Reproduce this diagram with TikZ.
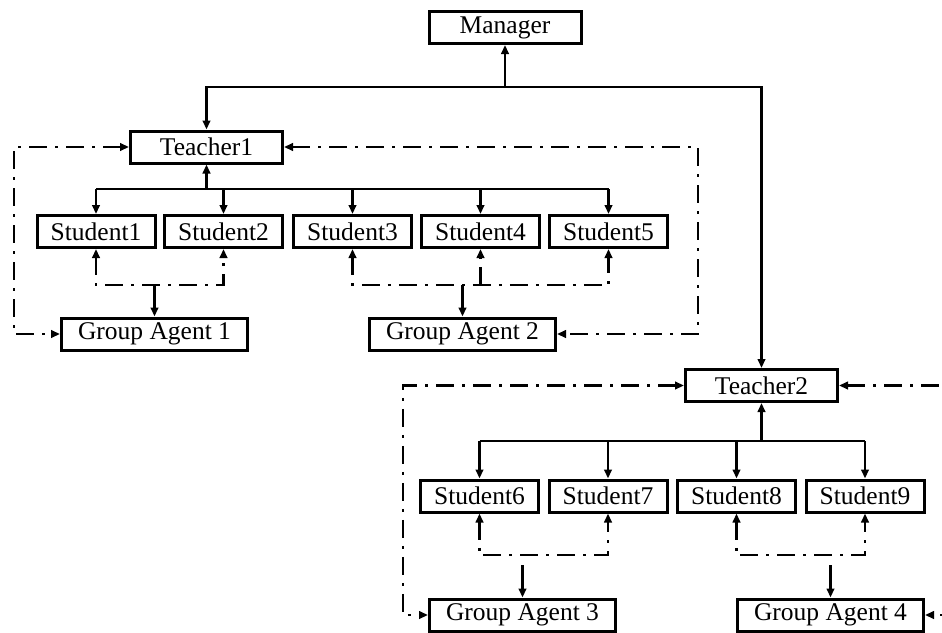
\documentclass[tikz,border=0pt]{standalone}
\usepackage{fontspec}
\setmainfont{Liberation Serif}
\usetikzlibrary{arrows.meta}
\begin{document}
\begin{tikzpicture}[x=1pt, y=-1pt, >={Triangle[length=9pt,width=7.5pt]},
    agent/.style ={draw, line width=3pt, minimum height=32pt, inner sep=0pt, font=\fontsize{25.5}{30}\selectfont},
    head/.style ={agent, minimum width=152pt},
    learner/.style ={agent, minimum width=118pt},
    grouper/.style ={agent, minimum width=186pt},
    link/.style ={line width=2.6pt, ->},
    relay/.style ={line width=2.8pt, dash pattern=on 18pt off 8pt on 3pt off 8pt, ->}]
   \useasboundingbox (0,0) rectangle (942,632);

   \node[head] (M) at (505,27.5) {Manager};
   \node[head] (T1) at (206.5,147) {Teacher1};
   \node[head] (T2) at (761.5,385.5) {Teacher2};

   \node[learner] (S1) at (96,231.5) {Student1};
   \node[learner] (S2) at (223.5,231.5) {Student2};
   \node[learner] (S3) at (352.5,231.5) {Student3};
   \node[learner] (S4) at (480.5,231.5) {Student4};
   \node[learner] (S5) at (608.5,231.5) {Student5};
   \node[learner] (S6) at (479.5,496) {Student6};
   \node[learner] (S7) at (608,496) {Student7};
   \node[learner] (S8) at (736.5,496) {Student8};
   \node[learner] (S9) at (865,496) {Student9};

   \node[grouper] (GA1) at (154.5,334) {Group Agent 1};
   \node[grouper] (GA2) at (462.5,334) {Group Agent 2};
   \node[grouper] (GA3) at (522.5,615) {Group Agent 3};
   \node[grouper] (GA4) at (830.5,615) {Group Agent 4};

   \coordinate (top) at (505,87);
   \coordinate (b1) at (206.5,189);
   \coordinate (b2) at (761.5,441);
   \coordinate (g1) at (154.5,285);
   \coordinate (g2) at (462.5,285);
   \coordinate (g3) at (522.5,555);
   \coordinate (g4) at (830.5,555);
   \coordinate (l1) at (14,147);
   \coordinate (r1) at (698,147);
   \coordinate (l2) at (403,385.5);
   \coordinate (r2) at (960,385.5);

   \draw[link] (top) -- (M);
   \draw[link,<->] (T1) |- (top) -| (T2);

   \draw[link] (b1) -- (T1);
   \draw[line width=2.6pt] (S1 |- b1) -- (S5 |- b1);
   \foreach \s in {S1,S2,S3,S4,S5}
      \draw[link] (\s |- b1) -- (\s);
   \draw[link] (b2) -- (T2);
   \draw[line width=2.6pt] (S6 |- b2) -- (S9 |- b2);
   \foreach \s in {S6,S7,S8,S9}
      \draw[link] (\s |- b2) -- (\s);

   \draw[relay,<->] (S1) |- (g1) -| (S2);
   \draw[link] (g1) -- (GA1);
   \draw[relay,<->] (S3) |- (g2) -| (S5);
   \draw[relay] (S4 |- g2) -- (S4);
   \draw[link] (g2) -- (GA2);
   \draw[relay,<->] (S6) |- (g3) -| (S7);
   \draw[link] (g3) ++(0,10) -- (GA3);
   \draw[relay,<->] (S8) |- (g4) -| (S9);
   \draw[link] (g4) ++(0,10) -- (GA4);

   \draw[relay,<->] (T1) -- (l1) |- (GA1);
   \draw[relay,<->] (T1) -- (r1) |- (GA2);
   \draw[relay,<->] (T2) -- (l2) |- (GA3);
   \draw[relay,<->] (T2) -- (r2) |- (GA4);
\end{tikzpicture}
\end{document}
